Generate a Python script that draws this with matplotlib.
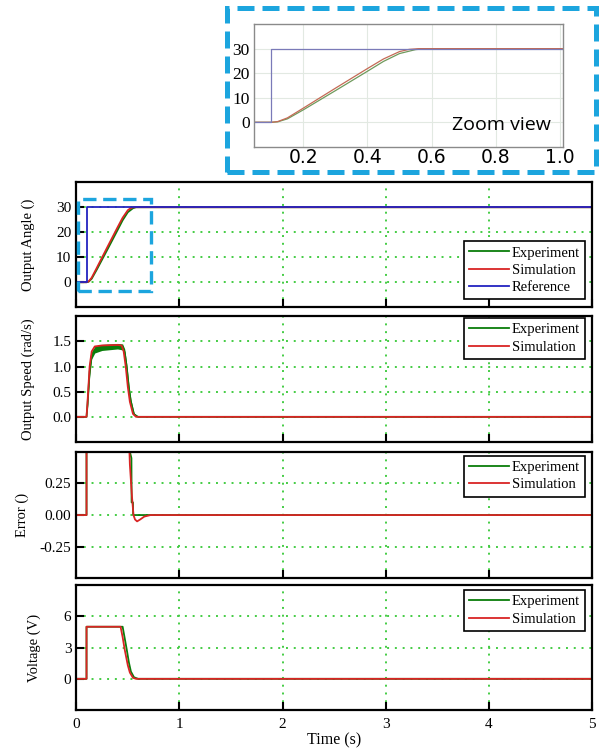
import numpy as np
import matplotlib
matplotlib.use('Agg')
from matplotlib import pyplot as plt
from matplotlib.patches import Rectangle

plt.rcParams['font.family'] = ['Liberation Serif', 'DejaVu Serif']

# ---- data ----
# output angle
t_ref = [0.0, 0.1, 0.1, 5.0]
ang_ref = [0, 0, 30, 30]
t_ang_sim = [0.0, 0.1, 0.12, 0.15, 0.2, 0.3, 0.4, 0.45, 0.5, 0.53, 0.56, 5.0]
ang_sim = [0, 0, 0.3, 1.8, 5.8, 13.9, 21.9, 25.8, 28.8, 29.7, 30, 30]
t_ang_exp = [0.0, 0.1, 0.12, 0.15, 0.2, 0.3, 0.4, 0.45, 0.5, 0.55, 0.58, 5.0]
ang_exp = [0, 0, 0.2, 1.4, 5.1, 12.9, 20.8, 24.8, 28.0, 29.6, 30, 30]

# output speed
t_spd_sim = [0.0, 0.1, 0.11, 0.13, 0.15, 0.18, 0.25, 0.4, 0.44, 0.46, 0.48, 0.5, 0.52, 0.55, 0.58, 5.0]
spd_sim = [0, 0, 0.3, 1.0, 1.3, 1.4, 1.42, 1.43, 1.42, 1.3, 1.0, 0.6, 0.3, 0.06, 0, 0]
t_spd_exp = [0.0, 0.1, 0.11, 0.13, 0.15, 0.18, 0.25, 0.4, 0.45, 0.47, 0.49, 0.51, 0.53, 0.56, 0.6, 5.0]
spd_exp_hi = [0, 0, 0.3, 1.0, 1.3, 1.4, 1.44, 1.46, 1.45, 1.35, 1.05, 0.65, 0.35, 0.08, 0, 0]
spd_exp_lo = [0, 0, 0.2, 0.8, 1.15, 1.27, 1.32, 1.35, 1.33, 1.2, 0.9, 0.5, 0.25, 0.03, 0, 0]
spd_exp = [0, 0, 0.25, 0.9, 1.22, 1.33, 1.38, 1.4, 1.39, 1.28, 0.98, 0.58, 0.3, 0.05, 0, 0]

# error
t_err_sim = [0.0, 0.1, 0.1, 0.2, 0.3, 0.4, 0.45, 0.5, 0.52, 0.54, 0.555, 0.57, 0.59, 0.62, 0.66, 0.72, 5.0]
err_sim = [0, 0, 30, 24.2, 16.1, 8.1, 4.2, 0.9, 0.4, 0.15, 0.0, -0.035, -0.05, -0.035, -0.012, 0, 0]
t_err_exp = [0.0, 0.1, 0.1, 0.2, 0.3, 0.4, 0.45, 0.5, 0.52, 0.535, 0.537, 0.55, 0.552, 5.0]
err_exp = [0, 0, 30, 24.9, 17.1, 9.2, 5.2, 1.4, 0.5, 0.45, 0.1, 0.1, 0.0, 0]

# voltage
t_vol_sim = [0.0, 0.1, 0.1, 0.43, 0.45, 0.47, 0.5, 0.52, 0.55, 0.58, 5.0]
vol_sim = [0, 0, 5, 5, 4.0, 2.8, 1.3, 0.6, 0.1, 0, 0]
t_vol_exp = [0.0, 0.1, 0.1, 0.45, 0.47, 0.49, 0.51, 0.53, 0.56, 0.6, 5.0]
vol_exp = [0, 0, 5, 5, 3.9, 2.8, 1.6, 0.7, 0.15, 0, 0]

xticks = [0, 1, 2, 3, 4, 5]

c_exp = '#0a7d0a'
c_sim = '#d92424'
c_ref = '#2323c0'
c_grid = '#44cc44'
c_box = '#1ca5de'

fig = plt.figure(figsize=(6.0, 7.53), dpi=100)

left, width = 0.127, 0.86
rows = [(0.592, 0.166), (0.413, 0.167), (0.232, 0.168), (0.057, 0.166)]
axes = [fig.add_axes([left, b, width, h]) for b, h in rows]


def style(ax, yticks, ylim, ylabel, labelx):
    ax.set_xlim(0, 5)
    ax.set_ylim(*ylim)
    ax.set_xticks(xticks)
    ax.set_yticks(yticks)
    ax.grid(True, color=c_grid, linestyle=(0, (1, 3)), linewidth=1.4)
    ax.tick_params(direction='in', length=6, width=1.5, labelsize=11, color='black')
    ax.tick_params(axis='x', pad=6)
    for s in ax.spines.values():
        s.set_linewidth(1.6)
    ax.set_ylabel(ylabel, fontsize=10.5)
    ax.yaxis.set_label_coords(labelx, 0.5)


leg_kw = dict(fontsize=10.5, fancybox=False, edgecolor='black', framealpha=1,
              handlelength=2.7, handletextpad=0.2, borderpad=0.35, labelspacing=0.28,
              borderaxespad=0)

# panel 1
ax = axes[0]
ax.plot(t_ang_exp, ang_exp, color=c_exp, lw=1.3, label='Experiment')
ax.plot(t_ang_sim, ang_sim, color=c_sim, lw=1.3, label='Simulation')
ax.plot(t_ref, ang_ref, color=c_ref, lw=1.3, label='Reference')
style(ax, [0, 10, 20, 30], (-10, 40), 'Output Angle ()', -0.079)
leg = ax.legend(loc='lower right', bbox_to_anchor=(0.986, 0.064), **leg_kw)
leg.get_frame().set_linewidth(1.2)
ax.add_patch(Rectangle((0.02, -3.6), 0.70, 36.8, fill=False, edgecolor=c_box,
                       lw=2.4, linestyle=(0, (4, 2)), zorder=5, clip_on=False))

# panel 2
ax = axes[1]
ax.fill_between(t_spd_exp, spd_exp_lo, spd_exp_hi, color=c_exp, lw=0)
ax.plot(t_spd_exp, spd_exp, color=c_exp, lw=1.3, label='Experiment')
ax.plot(t_spd_sim, spd_sim, color=c_sim, lw=1.3, label='Simulation')
style(ax, [0.0, 0.5, 1.0, 1.5], (-0.5, 2.0), 'Output Speed (rad/s)', -0.079)
ax.set_yticklabels(['0.0', '0.5', '1.0', '1.5'])
leg = ax.legend(loc='upper right', bbox_to_anchor=(0.986, 0.985), **leg_kw)
leg.get_frame().set_linewidth(1.2)

# panel 3
ax = axes[2]
ax.plot(t_err_exp, err_exp, color=c_exp, lw=1.3, label='Experiment')
ax.plot(t_err_sim, err_sim, color=c_sim, lw=1.3, label='Simulation')
style(ax, [-0.25, 0.0, 0.25], (-0.5, 0.5), 'Error ()', -0.091)
ax.set_yticklabels(['-0.25', '0.00', '0.25'])
leg = ax.legend(loc='upper right', bbox_to_anchor=(0.986, 0.968), **leg_kw)
leg.get_frame().set_linewidth(1.2)

# panel 4
ax = axes[3]
ax.plot(t_vol_exp, vol_exp, color=c_exp, lw=1.3, label='Experiment')
ax.plot(t_vol_sim, vol_sim, color=c_sim, lw=1.3, label='Simulation')
style(ax, [0, 3, 6], (-3, 9), 'Voltage (V)', -0.068)
ax.set_xlabel('Time (s)', fontsize=11.5, labelpad=1)
leg = ax.legend(loc='upper right', bbox_to_anchor=(0.986, 0.96), **leg_kw)
leg.get_frame().set_linewidth(1.2)

for a in axes[:3]:
    a.tick_params(labelbottom=False)

# zoom inset
ins = fig.add_axes([0.423, 0.805, 0.515, 0.163])
ins.plot(t_ang_exp, ang_exp, color='#6f9a5c', lw=0.9)
ins.plot(t_ang_sim, ang_sim, color='#c46a55', lw=0.9)
ins.plot(t_ref, ang_ref, color='#7a7ab8', lw=0.9)
ins.set_xlim(0.045, 1.01)
ins.set_ylim(-10, 40)
ins.set_xticks([0.2, 0.4, 0.6, 0.8, 1.0])
ins.set_yticks([0, 10, 20, 30])
ins.grid(True, color='#e2e9e2', lw=0.8)
ins.tick_params(length=0, labelsize=12.5)
ins.tick_params(axis='y', pad=3)
ins.tick_params(axis='x', pad=1)
for lab in ins.get_xticklabels():
    lab.set_family(['DejaVu Sans'])
    lab.set_fontsize(13.5)
for s in ins.spines.values():
    s.set_color('#8a8a8a')
    s.set_linewidth(1.0)
ins.text(0.64, 0.18, 'Zoom view', transform=ins.transAxes, fontsize=14,
         family=['Open Sans', 'DejaVu Sans'], va='center')

fig.patches.append(Rectangle((0.378, 0.772), 0.615, 0.217, transform=fig.transFigure,
                             fill=False, edgecolor=c_box, lw=3.6,
                             linestyle=(0, (3.4, 1.6))))

fig.savefig('out.png', dpi=100)
